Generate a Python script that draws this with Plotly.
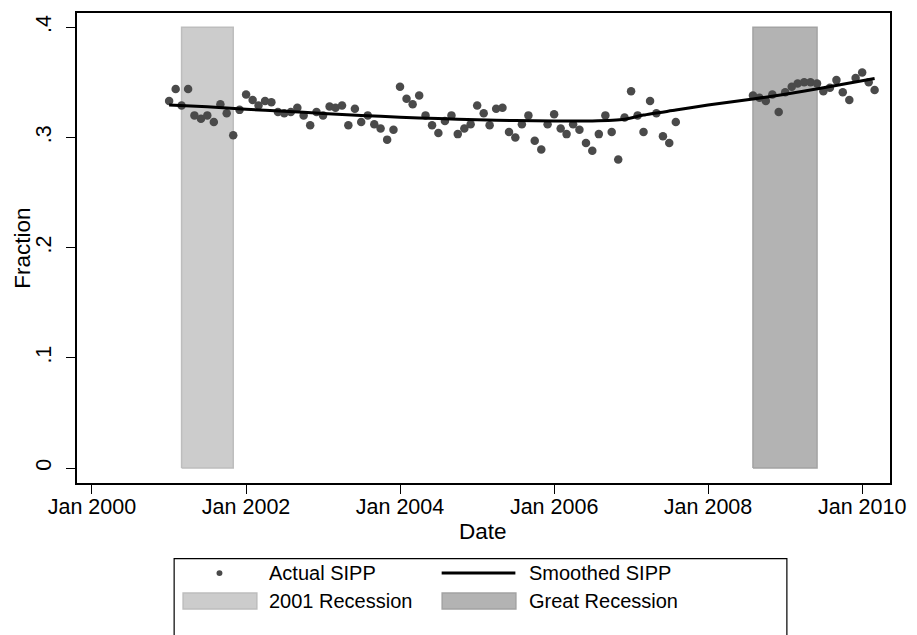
import pandas as pd
import plotly.graph_objects as go

# ---- data ----
panel_starts = ["2001-01-01", "2008-08-01"]
panel_ends = ["2007-08-01", "2010-03-01"]

actual_p1 = [
    0.333, 0.344, 0.329, 0.344, 0.320, 0.317, 0.320, 0.314, 0.330, 0.322, 0.302, 0.325,
    0.339, 0.334, 0.329, 0.333, 0.332, 0.323, 0.322, 0.323, 0.327, 0.320, 0.311, 0.323,
    0.320, 0.328, 0.327, 0.329, 0.311, 0.326, 0.314, 0.320, 0.312, 0.308, 0.298, 0.307,
    0.346, 0.335, 0.330, 0.338, 0.320, 0.311, 0.304, 0.315, 0.320, 0.303, 0.308, 0.312,
    0.329, 0.322, 0.311, 0.326, 0.327, 0.305, 0.300, 0.312, 0.320, 0.297, 0.289, 0.312,
    0.321, 0.308, 0.303, 0.312, 0.307, 0.295, 0.288, 0.303, 0.320, 0.305, 0.280, 0.318,
    0.342, 0.320, 0.305, 0.333, 0.322, 0.301, 0.295, 0.314,
]
actual_p2 = [
    0.338, 0.336, 0.333, 0.339, 0.323, 0.341, 0.346, 0.349, 0.350, 0.350, 0.349, 0.342,
    0.345, 0.352, 0.341, 0.334, 0.354, 0.359, 0.350, 0.343,
]

smooth_dates = [
    "2001-01-01", "2001-07-01", "2002-01-01", "2002-07-01", "2003-01-01", "2003-07-01",
    "2004-01-01", "2004-07-01", "2005-01-01", "2005-07-01", "2006-01-01", "2006-07-01",
    "2006-12-01", "2007-03-01", "2007-08-01", "2008-01-01", "2008-08-01", "2009-01-01",
    "2009-07-01", "2010-03-01",
]
smooth_values = [
    0.3295, 0.3278, 0.3255, 0.3238, 0.3218, 0.3200,
    0.3183, 0.3171, 0.3160, 0.3153, 0.3150, 0.3150,
    0.3165, 0.3203, 0.3248, 0.3294, 0.3349, 0.3392,
    0.3451, 0.3535,
]

recession_names = ["2001 Recession", "Great Recession"]
recession_start = ["2001-03-01", "2008-08-01"]
recession_end = ["2001-11-01", "2009-06-01"]
recession_top = 0.4

xtick_vals = ["2000-01-01", "2002-01-01", "2004-01-01", "2006-01-01", "2008-01-01", "2010-01-01"]
xtick_text = ["Jan 2000", "Jan 2002", "Jan 2004", "Jan 2006", "Jan 2008", "Jan 2010"]
ytick_vals = [0, 0.1, 0.2, 0.3, 0.4]
ytick_text = ["0", ".1", ".2", ".3", ".4"]

# ---- styles ----
FONT = "Liberation Sans, Arial, Helvetica, sans-serif"
MARKER_COLOR = "#4a4a4a"
REC_FILL = ["#cccccc", "#b3b3b3"]
REC_LINE = ["#bdbdbd", "#a3a3a3"]

W, H = 917, 635
ML, MR, MT, MB = 77, 24, 11, 152

dates_p1 = pd.date_range(panel_starts[0], panel_ends[0], freq="MS")
dates_p2 = pd.date_range(panel_starts[1], panel_ends[1], freq="MS")
actual_dates = list(dates_p1) + list(dates_p2)
actual_values = actual_p1 + actual_p2

fig = go.Figure()

for i, name in enumerate(recession_names):
    s, e = recession_start[i], recession_end[i]
    fig.add_trace(go.Scatter(
        x=[s, s, e, e, s], y=[0, recession_top, recession_top, 0, 0],
        mode="lines", fill="toself", fillcolor=REC_FILL[i],
        line=dict(color=REC_LINE[i], width=1.5),
        name=name, showlegend=False, hoverinfo="skip",
    ))

fig.add_trace(go.Scatter(
    x=actual_dates, y=actual_values, mode="markers",
    marker=dict(size=8.5, color=MARKER_COLOR, line=dict(width=0)),
    name="Actual SIPP", showlegend=False,
))

fig.add_trace(go.Scatter(
    x=smooth_dates, y=smooth_values, mode="lines",
    line=dict(color="black", width=3, shape="spline", smoothing=0.6),
    name="Smoothed SIPP", showlegend=False,
))

# ---- manual legend (pixel -> paper helpers) ----
pw = W - ML - MR
ph = H - MT - MB


def px(xp):
    return (xp - ML) / pw


def py(yp):
    return (H - MB - yp) / ph


shapes = []
shapes.append(dict(type="rect", xref="paper", yref="paper",
                   x0=px(174.5), x1=px(789.5), y0=py(650), y1=py(559),
                   line=dict(color="black", width=1.2), fillcolor="white", layer="above"))
# dot
shapes.append(dict(type="circle", xref="paper", yref="paper",
                   x0=px(217), x1=px(223), y0=py(576.5), y1=py(570.5),
                   line=dict(width=0), fillcolor=MARKER_COLOR, layer="above"))
# line
shapes.append(dict(type="line", xref="paper", yref="paper",
                   x0=px(443), x1=px(517), y0=py(573.5), y1=py(573.5),
                   line=dict(color="black", width=3), layer="above"))
# recession boxes
for i, (x0, x1) in enumerate([(183.5, 257.5), (443.5, 517.5)]):
    shapes.append(dict(type="rect", xref="paper", yref="paper",
                       x0=px(x0), x1=px(x1), y0=py(609.5), y1=py(593.5),
                       line=dict(color=REC_LINE[i], width=1.5), fillcolor=REC_FILL[i],
                       layer="above"))

legend_labels = ["Actual SIPP", "Smoothed SIPP", recession_names[0], recession_names[1]]
legend_pos = [(268, 573.5), (529, 573.5), (268, 601.5), (529, 601.5)]
annotations = []
for lab, (lx, ly) in zip(legend_labels, legend_pos):
    annotations.append(dict(text=lab, xref="paper", yref="paper", x=px(lx), y=py(ly),
                            xanchor="left", yanchor="middle", showarrow=False,
                            font=dict(family=FONT, size=20, color="black")))

# axis titles
annotations.append(dict(text="Date", xref="paper", yref="paper", x=px(484.5), y=py(532),
                        xanchor="center", yanchor="middle", showarrow=False,
                        font=dict(family=FONT, size=22.5, color="black")))
annotations.append(dict(text="Fraction", xref="paper", yref="paper", x=px(21.5), y=py(247),
                        xanchor="center", yanchor="middle", showarrow=False, textangle=-90,
                        font=dict(family=FONT, size=22.5, color="black")))

fig.update_layout(
    width=W, height=H,
    margin=dict(l=ML, r=MR, t=MT, b=MB),
    paper_bgcolor="white", plot_bgcolor="white",
    font=dict(family=FONT, color="black"),
    showlegend=False,
    shapes=shapes, annotations=annotations,
    xaxis=dict(
        type="date", range=["1999-10-22", "2010-05-13"],
        tickvals=xtick_vals, ticktext=xtick_text,
        ticks="outside", ticklen=9, tickwidth=1.3, tickcolor="black",
        showline=True, linecolor="black", linewidth=1.5, mirror=True,
        showgrid=False, zeroline=False,
        tickfont=dict(family=FONT, size=21.5), ticklabelstandoff=-6,
    ),
    yaxis=dict(
        range=[-0.01356, 0.4129],
        tickvals=ytick_vals, ticktext=ytick_text, tickangle=-90,
        ticks="outside", ticklen=9, tickwidth=1.3, tickcolor="black",
        showline=True, linecolor="black", linewidth=1.5, mirror=True,
        showgrid=False, zeroline=False,
        tickfont=dict(family=FONT, size=21.5), ticklabelstandoff=7,
    ),
)

fig.write_html("out.html")
